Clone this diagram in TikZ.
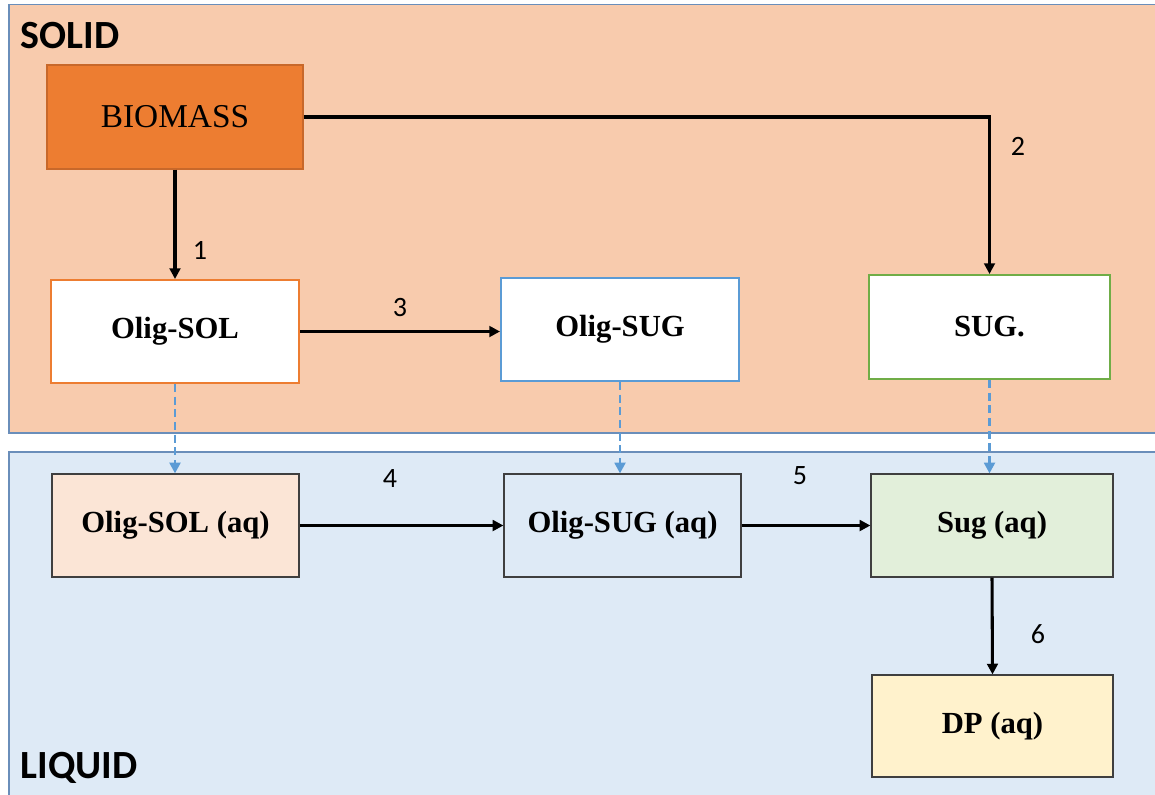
\documentclass[tikz,border=0pt]{standalone}
\usepackage{fontspec}
\setmainfont{Liberation Serif}
\newfontfamily\labelfont{Carlito}
\usetikzlibrary{arrows.meta}

\definecolor{solidbg}{HTML}{F8CBAD}
\definecolor{liquidbg}{HTML}{DEEAF6}
\definecolor{panelline}{HTML}{6A8EBA}
\definecolor{biofill}{HTML}{ED7D31}
\definecolor{bioline}{HTML}{C8682A}
\definecolor{orangeline}{HTML}{ED7D31}
\definecolor{blueline}{HTML}{5B9BD5}
\definecolor{greenline}{HTML}{70AD47}
\definecolor{boxline}{HTML}{3F3F3F}
\definecolor{solaqfill}{HTML}{FBE5D6}
\definecolor{sugaqfill}{HTML}{E2EFDA}
\definecolor{dpfill}{HTML}{FFF2CC}

\tikzset{
  panel/.style={draw=panelline, line width=0.9pt},
  statebox/.style={rectangle, line width=1.5pt, font=\fontsize{23}{25}\selectfont\bfseries, inner sep=0pt},
  aqbox/.style={rectangle, draw=boxline, line width=0.9pt, font=\fontsize{23}{25}\selectfont\bfseries, inner sep=0pt},
  flow/.style={draw=black, line width=2.3pt, -{Triangle[length=8pt,width=8pt]}},
  transfer/.style={draw=blueline, line width=2.2pt, dash pattern=on 6pt off 3.5pt, -{Triangle[length=8pt,width=8pt]}},
  steplabel/.style={font=\labelfont\fontsize{21}{23}\selectfont},
  phaselabel/.style={font=\labelfont\fontsize{30}{32}\selectfont\bfseries, anchor=west}
}

\begin{document}
\begin{tikzpicture}[x=0.75pt,y=-0.75pt]
  \useasboundingbox (0,0) rectangle (1155,794);
  \begin{scope}
    \clip (0,0) rectangle (1155,794);
    % phase panels
    \filldraw[panel, fill=solidbg] (9,4.5) rectangle (1170,433);
    \filldraw[panel, fill=liquidbg] (9,452) rectangle (1170,810);
  \end{scope}

  \node[phaselabel] (solid) at (16,36) {SOLID};
  \node[phaselabel] (liquid) at (16,768) {LIQUID};

  % solid phase species
  \node[rectangle, draw=bioline, fill=biofill, line width=0.8pt, minimum width=192pt, minimum height=78pt,
        font=\fontsize{25}{27}\selectfont] (bio) at (175,117) {BIOMASS};
  \node[statebox, draw=orangeline, fill=white, minimum width=186pt, minimum height=77.25pt] (osol) at (175,331.5) {Olig-SOL};
  \node[statebox, draw=blueline, fill=white, minimum width=178.5pt, minimum height=77.25pt] (osug) at (620,329.5) {Olig-SUG};
  \node[statebox, draw=greenline, fill=white, minimum width=180.75pt, minimum height=78pt] (sug) at (989.5,327) {SUG.};

  % liquid phase species
  \node[aqbox, fill=solaqfill, minimum width=185.25pt, minimum height=77.25pt] (osolaq) at (175.5,525.5) {Olig-SOL (aq)};
  \node[aqbox, fill=liquidbg, minimum width=177.75pt, minimum height=77.25pt] (osugaq) at (622.5,525.5) {Olig-SUG (aq)};
  \node[aqbox, fill=sugaqfill, minimum width=181.5pt, minimum height=77.25pt] (sugaq) at (992,525.5) {Sug (aq)};
  \node[aqbox, fill=dpfill, minimum width=180.75pt, minimum height=76.5pt] (dpaq) at (992.5,726) {DP (aq)};

  % reactions
  \draw[flow] (bio.south) -- (osol.north);
  \draw[flow] (bio.east) -| (sug.north);
  \draw[flow] (osol.east) -- (osug.west |- osol.east);
  \draw[flow] (osolaq.east) -- (osugaq.west);
  \draw[flow] (osugaq.east) -- (sugaq.west);
  \draw[flow] (sugaq.south) -- (dpaq.north);

  % dissolution
  \draw[transfer] (osol.south) -- (osol.south |- osolaq.north);
  \draw[transfer] (osug.south) -- (osug.south |- osugaq.north);
  \draw[transfer] (sug.south) -- (sug.south |- sugaq.north);

  % step numbers
  \node[steplabel] (n1) at (200,250) {1};
  \node[steplabel] (n2) at (1018,146) {2};
  \node[steplabel] (n3) at (400,307) {3};
  \node[steplabel] (n4) at (390,478) {4};
  \node[steplabel] (n5) at (800,476) {5};
  \node[steplabel] (n6) at (1038,634) {6};
\end{tikzpicture}
\end{document}
